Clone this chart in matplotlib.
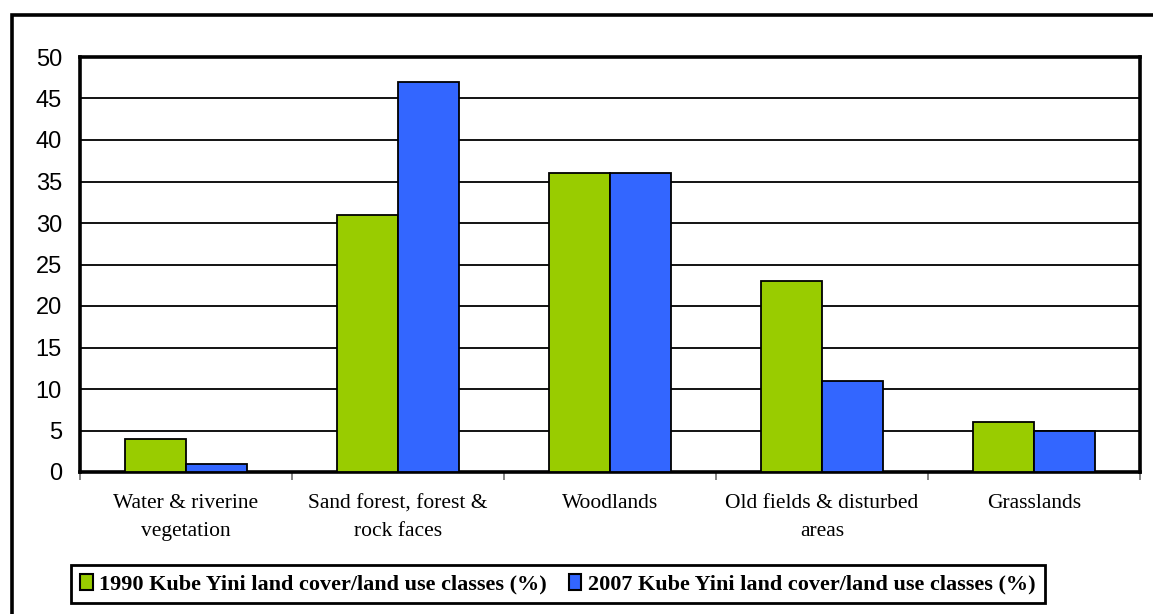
import matplotlib
matplotlib.use("Agg")
import matplotlib.pyplot as plt
from matplotlib.patches import Rectangle
import numpy as np

categories = ["Water & riverine\nvegetation", "Sand forest, forest &\nrock faces",
              "Woodlands", "Old fields & disturbed\nareas", "Grasslands"]
values_1990 = [4, 31, 36, 23, 6]
values_2007 = [1, 47, 36, 11, 5]
series_labels = ["1990 Kube Yini land cover/land use classes (%)",
                 "2007 Kube Yini land cover/land use classes (%)"]
yticks = [0, 5, 10, 15, 20, 25, 30, 35, 40, 45, 50]

green = "#99CC00"
blue = "#3366FF"

fig = plt.figure(figsize=(11.53, 6.14), dpi=100)
ax = fig.add_axes([80 / 1153, 1 - 472 / 614, 1060 / 1153, 415 / 614])

x = np.arange(len(categories))
bw = 1 / 3.5
ax.bar(x - bw / 2, values_1990, width=bw, color=green, edgecolor="black", linewidth=1.3, zorder=3,
       label=series_labels[0])
ax.bar(x + bw / 2, values_2007, width=bw, color=blue, edgecolor="black", linewidth=1.3, zorder=3,
       label=series_labels[1])

ax.set_xlim(-0.5, len(categories) - 0.5)
ax.set_ylim(0, 50)
ax.set_yticks(yticks)
ax.set_yticklabels([str(v) for v in yticks], fontname="Liberation Sans", fontsize=17)
ax.tick_params(axis="y", length=0, pad=13)
ax.yaxis.grid(True, color="black", linewidth=1.3, zorder=1)
ax.set_axisbelow(True)

# category labels between boundary ticks
ax.set_xticks(np.arange(len(categories) + 1) - 0.5)
ax.set_xticklabels([])
ax.tick_params(axis="x", direction="out", length=6, width=1.2, color="#707070")
for xi, lab in zip(x, categories):
    ax.text(xi, -2.7, lab, ha="center", va="top", fontname="Liberation Serif", fontsize=15.5,
            linespacing=1.6)

for s in ax.spines.values():
    s.set_linewidth(2.6)
    s.set_color("black")

leg = fig.legend(loc="center", bbox_to_anchor=(558 / 1153, 1 - 584 / 614), ncol=2,
                 prop={"family": "Liberation Serif", "weight": "bold", "size": 16},
                 frameon=True, fancybox=False, edgecolor="black", framealpha=1,
                 handlelength=0.55, handleheight=0.75, handletextpad=0.3, columnspacing=1.0,
                 borderpad=0.4, borderaxespad=0)
leg.get_frame().set_linewidth(2.0)
for h in leg.legend_handles:
    h.set_linewidth(1.5)

# outer chart border
fig.patches.append(Rectangle((11.5 / 1153, -0.1), 1.2, 1 - 14.5 / 614 + 0.1,
                             transform=fig.transFigure, fill=False, edgecolor="black",
                             linewidth=2.6))

fig.savefig("out.png", dpi=100)
